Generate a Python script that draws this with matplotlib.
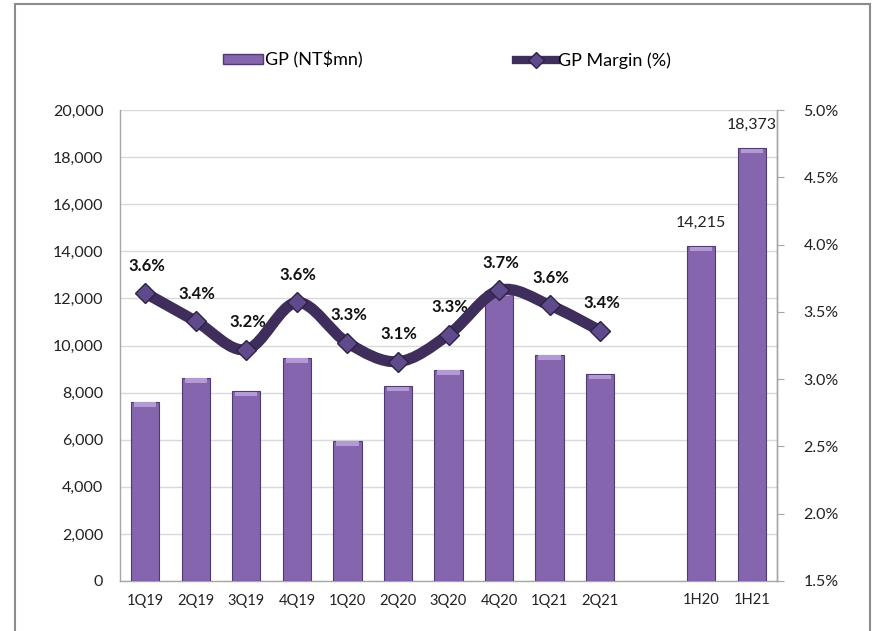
import matplotlib
matplotlib.use("Agg")
import matplotlib.pyplot as plt
import numpy as np
from matplotlib.path import Path
from matplotlib.patches import PathPatch, Rectangle
from matplotlib.lines import Line2D
from matplotlib.ticker import FuncFormatter

plt.rcParams['font.family'] = ['Lato', 'DejaVu Sans']

# Data
quarters = ['1Q19', '2Q19', '3Q19', '4Q19', '1Q20', '2Q20', '3Q20', '4Q20', '1Q21', '2Q21']
gp_quarters = [7600, 8620, 8060, 9470, 5950, 8265, 8960, 12300, 9600, 8773]
margin_quarters = [3.64, 3.43, 3.22, 3.57, 3.27, 3.13, 3.33, 3.66, 3.55, 3.36]
margin_labels = ['3.6%', '3.4%', '3.2%', '3.6%', '3.3%', '3.1%', '3.3%', '3.7%', '3.6%', '3.4%']
halves = ['1H20', '1H21']
gp_halves = [14215, 18373]

categories = quarters + [''] + halves
n_q = len(quarters)
x_q = np.arange(n_q)
x_h = np.arange(n_q + 1, n_q + 1 + len(halves))

bar_face = '#8465AE'
bar_edge = '#4E3B72'
line_color = '#3F2E5B'
marker_face = '#5F4A8B'

fig = plt.figure(figsize=(8.73, 6.31), dpi=100)
# outer frame
fig.patches.append(Rectangle((15 / 873, -0.01), (870 - 15) / 873, 1 - 4 / 631 + 0.01,
                             transform=fig.transFigure, fill=False,
                             edgecolor='#8C8C8C', linewidth=1.5))

ax = fig.add_axes([120 / 873, 1 - 581 / 631, (777 - 120) / 873, (581 - 110) / 631])
ax2 = ax.twinx()

ax.set_xlim(-0.5, len(categories) - 0.5)
ax.set_ylim(0, 20000)
ax2.set_ylim(1.5, 5.0)

ax.bar(x_q, gp_quarters, width=0.56, color=bar_face, edgecolor=bar_edge, linewidth=0.8, zorder=3)
ax.bar(x_h, gp_halves, width=0.56, color=bar_face, edgecolor=bar_edge, linewidth=0.8, zorder=3)

# light top cap on bars for bevel look
for xs, vals in ((x_q, gp_quarters), (x_h, gp_halves)):
    ax.bar(xs, [180] * len(vals), bottom=np.array(vals) - 200, width=0.44,
           color='#B39AD5', linewidth=0, zorder=4)

for xi, v in zip(x_h, gp_halves):
    ax.annotate(f'{v:,}', (xi, v), xytext=(0, 12), textcoords='offset points',
                ha='center', va='bottom', fontsize=11.5, color='#222222')

ax.yaxis.set_major_formatter(FuncFormatter(lambda v, p: f'{int(v):,}'))
ax.set_yticks(np.arange(0, 20001, 2000))
ax2.set_yticks(np.arange(1.5, 5.01, 0.5))
ax2.yaxis.set_major_formatter(FuncFormatter(lambda v, p: f'{v:.1f}%'))

ax.set_xticks(range(len(categories)))
ax.set_xticklabels(categories)

ax.grid(axis='y', color='#D9D9D9', linewidth=1, zorder=0)
ax.set_axisbelow(True)

for a in (ax, ax2):
    for s in a.spines.values():
        s.set_color('#A6A6A6')
        s.set_linewidth(1)
ax.spines['top'].set_visible(False)
ax2.spines['top'].set_visible(False)
ax2.spines['left'].set_visible(False)
ax2.spines['bottom'].set_visible(False)

ax.tick_params(axis='y', length=0, pad=12, labelsize=11.5, labelcolor='#222222')
ax.tick_params(axis='x', length=0, pad=9, labelsize=10.5, labelcolor='#222222')
ax2.tick_params(axis='y', length=5, direction='out', color='#A6A6A6', pad=14,
                labelsize=11.5, labelcolor='#222222')

# smoothed margin line (Bezier through the data points)
pts = np.column_stack([x_q.astype(float), margin_quarters])
verts = [tuple(pts[0])]
codes = [Path.MOVETO]
for i in range(len(pts) - 1):
    p0 = pts[i - 1] if i > 0 else pts[i]
    p1 = pts[i]
    p2 = pts[i + 1]
    p3 = pts[i + 2] if i + 2 < len(pts) else pts[i + 1]
    c1 = p1 + (p2 - p0) / 6.0
    c2 = p2 - (p3 - p1) / 6.0
    verts += [tuple(c1), tuple(c2), tuple(p2)]
    codes += [Path.CURVE4] * 3
ax2.add_patch(PathPatch(Path(verts, codes), facecolor='none', edgecolor=line_color,
                        linewidth=8, capstyle='round', joinstyle='round', zorder=5))
ax2.plot(x_q, margin_quarters, linestyle='none', marker='D', markersize=10,
         markerfacecolor=marker_face, markeredgecolor='#2E2145', markeredgewidth=1, zorder=6)

for xi, m, lab in zip(x_q, margin_quarters, margin_labels):
    ax2.annotate(lab, (xi, m), xytext=(1, 14), textcoords='offset points',
                 ha='center', va='bottom', fontsize=12, fontweight='bold', color='#111111')

# legend
h_bar = Rectangle((0, 0), 1, 1, facecolor=bar_face, edgecolor=bar_edge)
h_line = Line2D([0], [0], color=line_color, linewidth=6, marker='D', markersize=8,
                markerfacecolor=marker_face, markeredgecolor='#2E2145')
fig.legend([h_bar, h_line], ['GP (NT$mn)', 'GP Margin (%)'], loc='center',
           bbox_to_anchor=(447 / 873, 1 - 60 / 631), ncol=2, frameon=False,
           fontsize=13, columnspacing=8.5, handlelength=2.2, handleheight=0.5,
           handletextpad=0.1)

fig.savefig('out.png', dpi=100)
